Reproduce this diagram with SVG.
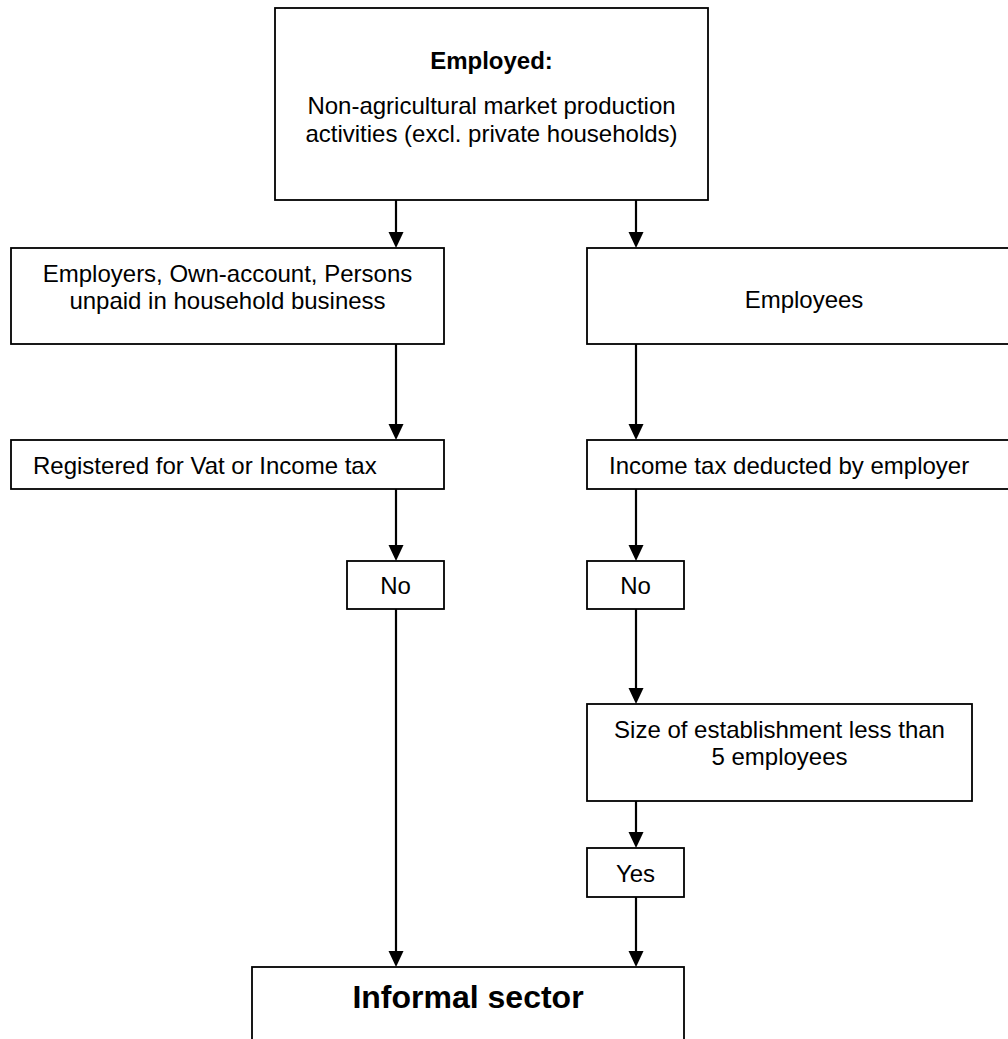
<svg xmlns="http://www.w3.org/2000/svg" width="1008" height="1039" viewBox="0 0 1008 1039">
<style>
.box{fill:#fff;stroke:#000;stroke-width:1.8}
.t{font-family:"Liberation Sans",Arial,sans-serif;font-size:24px;fill:#000}
.c{text-anchor:middle}
.b{font-weight:bold}
.edge{stroke:#000;stroke-width:2.2;fill:none;marker-end:url(#ah)}
</style>
<defs>
<marker id="ah" markerUnits="userSpaceOnUse" markerWidth="16" markerHeight="16" refX="0" refY="7.5" orient="auto">
<path d="M0,0 L16,7.5 L0,15 z" fill="#000"/>
</marker>
</defs>
<rect width="1008" height="1039" fill="#fff"/>
<g id="connectors">
<line class="edge" x1="396" y1="200" x2="396" y2="232"/>
<line class="edge" x1="636" y1="200" x2="636" y2="232"/>
<line class="edge" x1="396" y1="344" x2="396" y2="424"/>
<line class="edge" x1="636" y1="344" x2="636" y2="424"/>
<line class="edge" x1="396" y1="489" x2="396" y2="545"/>
<line class="edge" x1="636" y1="489" x2="636" y2="545"/>
<line class="edge" x1="636" y1="609" x2="636" y2="688"/>
<line class="edge" x1="636" y1="801" x2="636" y2="832"/>
<line class="edge" x1="396" y1="609" x2="396" y2="951"/>
<line class="edge" x1="636" y1="897" x2="636" y2="951"/>
</g>
<g id="employed">
<rect class="box" x="275" y="8" width="433" height="192"/>
<text class="t c b" x="491.5" y="69">Employed:</text>
<text class="t c" x="491.5" y="114">Non-agricultural market production</text>
<text class="t c" x="491.5" y="142">activities (excl. private households)</text>
</g>
<g id="self-employed">
<rect class="box" x="11" y="248" width="433" height="96"/>
<text class="t c" x="227.5" y="282">Employers, Own-account, Persons</text>
<text class="t c" x="227.5" y="309">unpaid in household business</text>
</g>
<g id="employees">
<rect class="box" x="587" y="248" width="434" height="96"/>
<text class="t c" x="804" y="308">Employees</text>
</g>
<g id="registered">
<rect class="box" x="11" y="440" width="433" height="49"/>
<text class="t" x="33" y="474">Registered for Vat or Income tax</text>
</g>
<g id="income-tax">
<rect class="box" x="587" y="440" width="434" height="49"/>
<text class="t" x="609" y="474">Income tax deducted by employer</text>
</g>
<g id="no-left">
<rect class="box" x="347" y="561" width="97" height="48"/>
<text class="t c" x="395.5" y="594">No</text>
</g>
<g id="no-right">
<rect class="box" x="587" y="561" width="97" height="48"/>
<text class="t c" x="635.5" y="594">No</text>
</g>
<g id="size">
<rect class="box" x="587" y="704" width="385" height="97"/>
<text class="t c" x="779.5" y="738">Size of establishment less than</text>
<text class="t c" x="779.5" y="765">5 employees</text>
</g>
<g id="yes">
<rect class="box" x="587" y="848" width="97" height="49"/>
<text class="t c" x="635.5" y="882">Yes</text>
</g>
<g id="informal">
<rect class="box" x="252" y="967" width="432" height="90"/>
<text class="t c b" x="468" y="1008" style="font-size:32px">Informal sector</text>
</g>
</svg>
